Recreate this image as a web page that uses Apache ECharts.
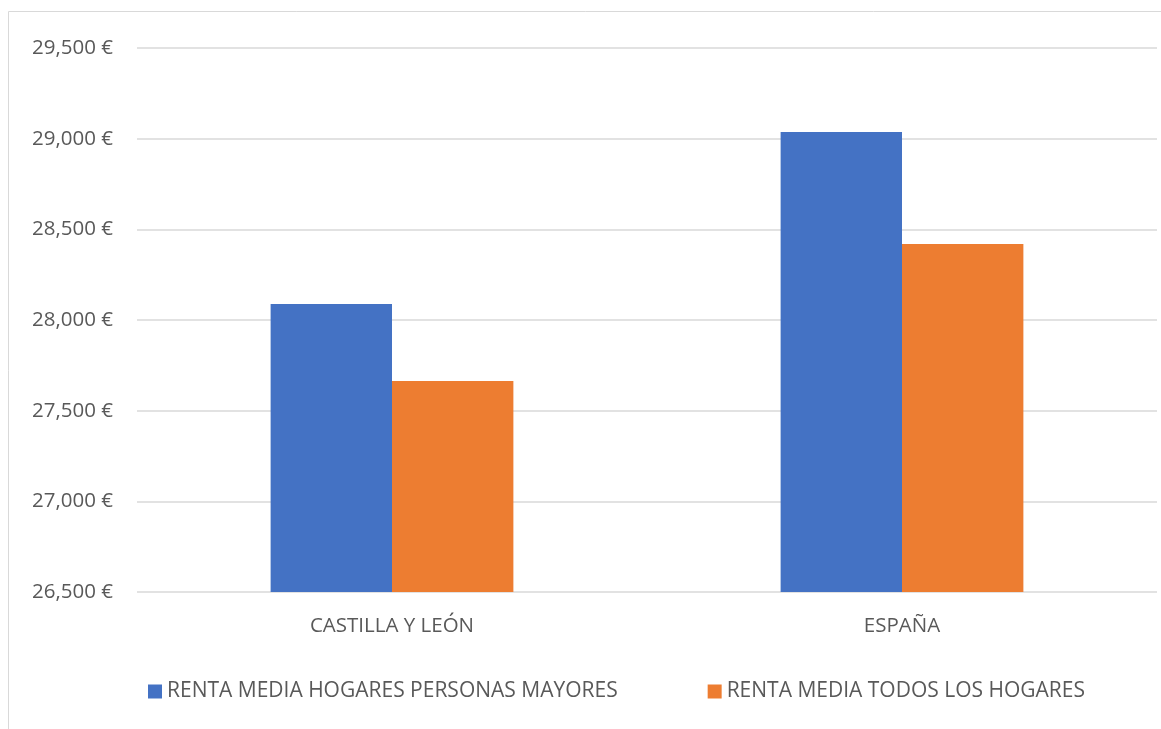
<!DOCTYPE html>
<html><head><meta charset="utf-8">
<script src="https://cdn.jsdelivr.net/npm/echarts@6/dist/echarts.min.js"></script>
<style>html,body{margin:0;padding:0;background:#fff}#c{width:1161px;height:729px}</style>
</head><body><div id="c"></div>
<script>
const categories = ['CASTILLA Y LEÓN', 'ESPAÑA'];
const seriesNames = ['RENTA MEDIA HOGARES PERSONAS MAYORES', 'RENTA MEDIA TODOS LOS HOGARES'];
const mayores = [28088, 29037];
const todos = [27663, 28419];
const yMin = 26500, yMax = 29500, yStep = 500;

const FONT = '"Open Sans", "Noto Sans", sans-serif';
const chart = echarts.init(document.getElementById('c'));
chart.setOption({
  animation: false,
  textStyle: { fontFamily: FONT },
  graphic: [{
    type: 'rect', silent: true,
    shape: { x: 8.5, y: 11.5, width: 1200, height: 800 },
    style: { fill: 'none', stroke: '#d9d9d9', lineWidth: 1 }
  }],
  grid: { left: 137, right: 4, top: 48, bottom: 137 },
  legend: {
    left: 143, top: 676, itemWidth: 14, itemHeight: 14, itemGap: 90,
    icon: 'rect',
    textStyle: { color: '#595959', fontSize: 21, fontFamily: FONT }
  },
  xAxis: {
    type: 'category', data: categories,
    axisLine: { show: false }, axisTick: { show: false },
    axisLabel: { color: '#595959', fontSize: 20.5, margin: 24, fontFamily: FONT }
  },
  yAxis: {
    type: 'value', min: yMin, max: yMax, interval: yStep,
    axisLine: { show: false }, axisTick: { show: false },
    splitLine: { lineStyle: { color: '#d9d9d9', width: 1.5 } },
    axisLabel: {
      color: '#595959', fontSize: 20.5, margin: 24, fontFamily: FONT,
      formatter: v => v.toLocaleString('en-US') + ' €'
    }
  },
  series: [
    { name: seriesNames[0], type: 'bar', data: mayores, itemStyle: { color: '#4472C4' }, barGap: '0%', barCategoryGap: '52.4%' },
    { name: seriesNames[1], type: 'bar', data: todos, itemStyle: { color: '#ED7D31' }, barGap: '0%', barCategoryGap: '52.4%' }
  ]
});
</script></body></html>
